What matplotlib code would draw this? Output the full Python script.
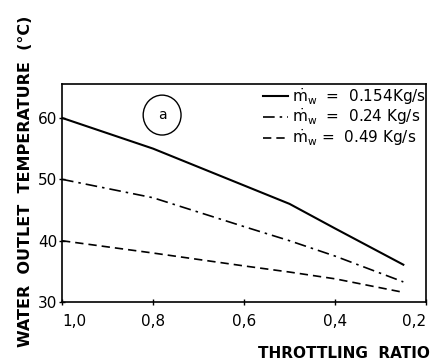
import matplotlib.pyplot as plt
from matplotlib.patches import Ellipse

# Data
ratio = [1.0, 0.8, 0.6, 0.5, 0.4, 0.25]
temp_0154 = [60.0, 55.0, 49.0, 46.0, 42.0, 36.1]
temp_024 = [50.0, 47.0, 42.3, 40.0, 37.5, 33.3]
temp_049 = [40.0, 38.0, 35.9, 34.9, 33.8, 31.6]

labels = [r'$\dot{\mathrm{m}}_\mathrm{w}$  =  0.154Kg/s',
          r'$\dot{\mathrm{m}}_\mathrm{w}$  =  0.24 Kg/s',
          r'$\dot{\mathrm{m}}_\mathrm{w}$ =  0.49 Kg/s']

yticks = [30, 40, 50, 60]
xticks = [1.0, 0.8, 0.6, 0.4, 0.2]
xticklabels = ['1,0', '0,8', '0,6', '0,4', '0,2']

plt.rcParams['font.family'] = 'DejaVu Sans'
fig = plt.figure(figsize=(4.35, 3.61), dpi=100)
ax = fig.add_axes([0.1425, 0.163, 0.837, 0.604])

ax.plot(ratio, temp_0154, color='black', lw=1.5, linestyle='-', label=labels[0])
ax.plot(ratio, temp_024, color='black', lw=1.2, linestyle=(0, (7, 3, 1.5, 3)), label=labels[1])
ax.plot(ratio, temp_049, color='black', lw=1.2, linestyle=(0, (5, 3)), label=labels[2])

ax.set_xlim(1.0, 0.2)
ax.set_ylim(30, 65.5)
ax.set_xticks(xticks)
ax.set_xticklabels(xticklabels)
ax.set_yticks(yticks)
ax.tick_params(direction='inout', length=5, width=1, labelsize=11)
ax.tick_params(axis='y', pad=1)
ax.tick_params(axis='x', pad=6)
ax.get_xticklabels()[-1].set_horizontalalignment('right')
ax.get_xticklabels()[0].set_horizontalalignment('left')
for s in ax.spines.values():
    s.set_linewidth(1.2)

# circled "a"
ax.add_patch(Ellipse((0.275, 0.858), 0.104, 0.183, transform=ax.transAxes,
                     fill=False, edgecolor='black', lw=1))
ax.text(0.275, 0.858, 'a', transform=ax.transAxes, ha='center', va='center', fontsize=10)

ax.legend(loc='upper right', bbox_to_anchor=(1.005, 1.0), frameon=False, fontsize=11,
          handlelength=1.6, handletextpad=0.3, labelspacing=0.0,
          borderaxespad=0, borderpad=0.1)

ax.set_ylabel('WATER  OUTLET  TEMPERATURE  (°C)', fontsize=11.5, fontweight='bold')
ax.yaxis.set_label_coords(-0.08, 0.555)
ax.set_xlabel('THROTTLING  RATIO', fontsize=11, fontweight='bold')
ax.xaxis.set_label_coords(1.01, -0.2)
ax.xaxis.label.set_horizontalalignment('right')

fig.savefig('out.png', dpi=100)
